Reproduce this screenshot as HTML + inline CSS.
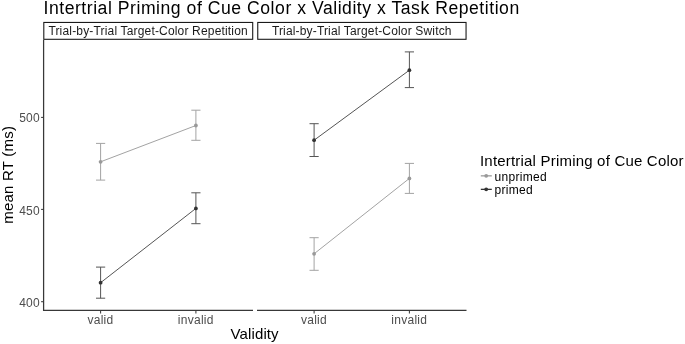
<!DOCTYPE html>
<html><head><meta charset="utf-8">
<style>
html,body{margin:0;padding:0;background:#fff;}
body{width:685px;height:344px;overflow:hidden;}
svg{display:block;will-change:transform;}
text{font-family:"Liberation Sans",sans-serif;}
</style></head>
<body>
<svg width="685" height="344" viewBox="0 0 685 344">
<rect width="685" height="344" fill="#fff"/>
<!-- title -->
<text x="43.5" y="14" font-size="17.6" fill="#000" textLength="475.7" lengthAdjust="spacing">Intertrial Priming of Cue Color x Validity x Task Repetition</text>
<!-- strips -->
<rect x="43.8" y="22.45" width="208.9" height="16.85" fill="#fff" stroke="#1a1a1a" stroke-width="1.1"/>
<rect x="257.75" y="22.45" width="208.3" height="16.85" fill="#fff" stroke="#1a1a1a" stroke-width="1.1"/>
<text x="148.05" y="35.3" font-size="12" fill="#1a1a1a" text-anchor="middle" textLength="199.3" lengthAdjust="spacing">Trial-by-Trial Target-Color Repetition</text>
<text x="361.7" y="35.3" font-size="12" fill="#1a1a1a" text-anchor="middle" textLength="179.6" lengthAdjust="spacing">Trial-by-Trial Target-Color Switch</text>
<!-- axes -->
<line x1="43.6" y1="39.8" x2="43.6" y2="310.9" stroke="#383838" stroke-width="1.25"/>
<line x1="43" y1="310.3" x2="253" y2="310.3" stroke="#383838" stroke-width="1.25"/>
<line x1="257" y1="310.3" x2="466.5" y2="310.3" stroke="#383838" stroke-width="1.25"/>
<!-- y ticks -->
<g stroke="#3a3a3a" stroke-width="1.05">
<line x1="41.1" y1="117.4" x2="43.5" y2="117.4"/>
<line x1="41.1" y1="209.4" x2="43.5" y2="209.4"/>
<line x1="41.1" y1="301.7" x2="43.5" y2="301.7"/>
<line x1="100.6" y1="310.5" x2="100.6" y2="313.4"/>
<line x1="195.9" y1="310.5" x2="195.9" y2="313.4"/>
<line x1="314.1" y1="310.5" x2="314.1" y2="313.4"/>
<line x1="409.4" y1="310.5" x2="409.4" y2="313.4"/>
</g>
<g font-size="12" fill="#4d4d4d" text-anchor="end">
<text x="39.6" y="121.9" textLength="20.3">500</text>
<text x="39.6" y="214.5" textLength="20.3">450</text>
<text x="39.6" y="306.5" textLength="20.3">400</text>
</g>
<g font-size="12" fill="#4d4d4d" text-anchor="middle">
<text x="100.4" y="324" textLength="25.6">valid</text>
<text x="195.6" y="324" textLength="35.7">invalid</text>
<text x="313.9" y="324" textLength="25.6">valid</text>
<text x="409.1" y="324" textLength="35.7">invalid</text>
</g>
<text x="254.6" y="338.9" font-size="15" fill="#000" text-anchor="middle" textLength="48">Validity</text>
<text transform="translate(13.3,174.9) rotate(-90)" font-size="15" fill="#000" text-anchor="middle" textLength="97.6">mean RT (ms)</text>
<!-- data: unprimed -->
<g stroke="#a3a3a3" stroke-width="1" fill="none">
<polyline points="100.6,161.8 195.9,125.5"/>
<polyline points="314.1,253.8 409.4,178.4"/>
<path d="M100.6 143.4V180.1M96 143.4H105.2M96 180.1H105.2"/>
<path d="M195.9 110.2V140.3M191.3 110.2H200.5M191.3 140.3H200.5"/>
<path d="M314.1 237.7V270.3M309.5 237.7H318.7M309.5 270.3H318.7"/>
<path d="M409.4 163.4V193.4M404.8 163.4H414M404.8 193.4H414"/>
</g>
<g fill="#999">
<circle cx="100.6" cy="161.8" r="1.9"/>
<circle cx="195.9" cy="125.5" r="1.9"/>
<circle cx="314.1" cy="253.8" r="1.9"/>
<circle cx="409.4" cy="178.4" r="1.9"/>
</g>
<!-- primed -->
<g stroke="#555" stroke-width="1" fill="none">
<polyline points="100.6,282.7 195.9,208.4"/>
<polyline points="314.1,140.2 409.4,70.2"/>
<path d="M100.6 267.1V298.2M96 267.1H105.2M96 298.2H105.2"/>
<path d="M195.9 192.8V223.7M191.3 192.8H200.5M191.3 223.7H200.5"/>
<path d="M314.1 123.7V156.5M309.5 123.7H318.7M309.5 156.5H318.7"/>
<path d="M409.4 51.9V87.6M404.8 51.9H414M404.8 87.6H414"/>
</g>
<g fill="#333">
<circle cx="100.6" cy="282.7" r="1.9"/>
<circle cx="195.9" cy="208.4" r="1.9"/>
<circle cx="314.1" cy="140.2" r="1.9"/>
<circle cx="409.4" cy="70.2" r="1.9"/>
</g>
<!-- legend -->
<text x="480" y="165.5" font-size="15" fill="#000" textLength="203.5" lengthAdjust="spacing">Intertrial Priming of Cue Color</text>
<line x1="480.8" y1="175.85" x2="491.8" y2="175.85" stroke="#9a9a9a" stroke-width="1.3"/>
<circle cx="486.2" cy="175.85" r="1.9" fill="#999"/>
<line x1="480.8" y1="189.35" x2="491.8" y2="189.35" stroke="#333" stroke-width="1.3"/>
<circle cx="486.2" cy="189.35" r="1.9" fill="#333"/>
<text x="494.5" y="180.8" font-size="12" fill="#000" textLength="52.3">unprimed</text>
<text x="494.5" y="194.2" font-size="12" fill="#000" textLength="38.2">primed</text>
</svg>
</body></html>
